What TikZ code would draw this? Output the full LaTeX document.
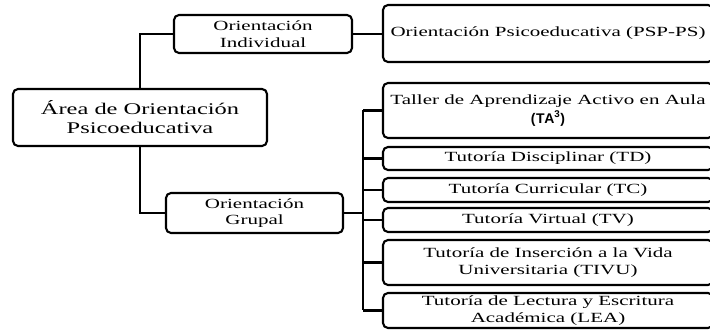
\documentclass[tikz,border=0pt]{standalone}
\usepackage{fontspec}
\setmainfont{Liberation Serif}[FakeStretch=1.5]
\newfontfamily\tafont{Liberation Sans}[LetterSpace=4]
\begin{document}
\begin{tikzpicture}[x=1pt,y=-1pt,
  box/.style={draw=black, line width=2.1pt, rounded corners=5pt, align=center, inner sep=0pt, font=\fontsize{14}{16.5}\selectfont},
  link/.style={draw=black, line width=2.1pt}]
\useasboundingbox (0,0) rectangle (710,331);
\clip (0,0) rectangle (710,331);
\node[box, minimum width=254pt, minimum height=57pt, font=\fontsize{16.3}{19}\selectfont] (main) at (140,117.5) {Área de Orientación\\Psicoeducativa};
\node[box, minimum width=178pt, minimum height=38pt] (ind) at (263,34) {Orientación\\Individual};
\node[box, minimum width=177pt, minimum height=40pt] (grp) at (254.5,213) {Orientación\\Grupal};
\node[box, minimum width=330pt, minimum height=57pt] (psp) at (548,33.5) {Orientación Psicoeducativa (PSP-PS)};
\node[box, minimum width=330pt, minimum height=55pt] (ta) at (548,110.5) {Taller de Aprendizaje Activo en Aula\\[2pt]{\tafont\bfseries\fontsize{14}{15}\selectfont (TA\textsuperscript{3})}};
\node[box, minimum width=330pt, minimum height=23pt] (td) at (548,158.5) {Tutoría Disciplinar (TD)};
\node[box, minimum width=330pt, minimum height=24pt] (tc) at (548,190) {Tutoría Curricular (TC)};
\node[box, minimum width=330pt, minimum height=24pt] (tv) at (548,220) {Tutoría Virtual (TV)};
\node[box, minimum width=330pt, minimum height=45pt] (tivu) at (548,262.5) {Tutoría de Inserción a la Vida\\Universitaria (TIVU)};
\node[box, minimum width=330pt, minimum height=35pt] (lea) at (548,310.5) {Tutoría de Lectura y Escritura\\Académica (LEA)};
\coordinate (bus) at (363,0);
\draw[link] (ind.west) -| (main.north);
\draw[link] (main.south) |- (grp.west);
\draw[link] (ind.east) -- (ind.east -| psp.west);
\draw[link] (grp.east) -- (grp.east -| bus);
\draw[link] (ta.west -| bus) -- (lea.west -| bus);
\foreach \b in {ta,td,tc,tv,tivu,lea}{
  \draw[link] (\b.west) -- (\b.west -| bus);
}
\end{tikzpicture}
\end{document}
